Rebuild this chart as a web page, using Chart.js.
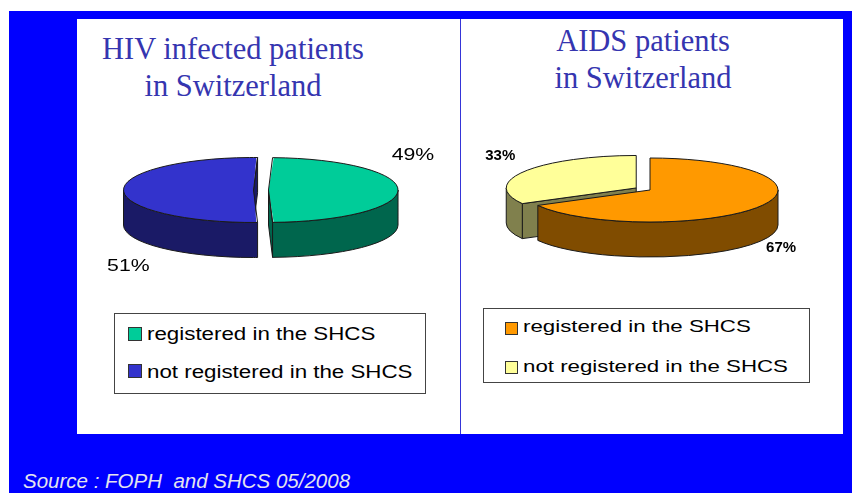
<!DOCTYPE html>
<html>
<head>
<meta charset="utf-8">
<script src="https://cdn.jsdelivr.net/npm/chart.js@4.4.0/dist/chart.umd.min.js"></script>
<style>
  html, body { margin: 0; padding: 0; background: #fff; }
  #page { position: relative; width: 852px; height: 493px; overflow: hidden; }
  #blue { position: absolute; left: 9px; top: 11px; width: 843px; height: 482px; background: #0000ff; }
  #panel { position: absolute; left: 77px; top: 19px; width: 766px; height: 415px; background: #fff; }
  #divider { position: absolute; left: 460px; top: 19px; width: 1px; height: 415px; background: #3535d8; }
  .title { position: absolute; width: 360px; text-align: center; white-space: nowrap;
           font-family: "Liberation Serif", "Times New Roman", serif; font-size: 30.5px; line-height: 37px; color: #3535b0; }
  .legend { position: absolute; border: 1px solid #444; box-sizing: border-box; background: #fff; }
  .sw { position: absolute; border: 1px solid #333; box-sizing: border-box; }
  .lt { position: absolute; white-space: nowrap; line-height: 1; transform-origin: 0 0; color: #000;
        font-family: "Liberation Sans", Arial, sans-serif; }
  canvas { position: absolute; }
  #source { position: absolute; left: 23px; top: 471px; line-height: 1; white-space: nowrap;
            font-family: "Liberation Sans", Arial, sans-serif; font-style: italic; font-size: 20.5px; color: #e4e4ee; }
</style>
</head>
<body>
<div id="page">
  <div id="blue"></div>
  <div id="panel"></div>
  <div id="divider"></div>
  <div class="title" id="titleL" style="left:53px; top:31px;"></div>
  <div class="title" id="titleR" style="left:463px; top:23px;"></div>
  <canvas id="hivPie" width="360" height="190" style="left:81px; top:95px;"></canvas>
  <canvas id="aidsPie" width="360" height="190" style="left:470px; top:95px;"></canvas>
  <div id="source"></div>
</div>
<script>
// data
const categories = ['registered in the SHCS', 'not registered in the SHCS'];
const hivValues = [49, 51];
const aidsValues = [67, 33];
const hivTitle = ['HIV infected patients', 'in Switzerland'];
const aidsTitle = ['AIDS patients', 'in Switzerland'];
const sourceNote = 'Source : FOPH\u00a0 and SHCS 05/2008';

// colours: top face, side face
const hivColors = ['#00cc99', '#3333cc'];
const hivSides = ['#00664d', '#1a1a66'];
const aidsColors = ['#ff9900', '#ffff99'];
const aidsSides = ['#804c00', '#80804d'];

document.getElementById('titleL').innerHTML = hivTitle.join('<br>');
document.getElementById('titleR').innerHTML = aidsTitle.join('<br>');
document.getElementById('source').textContent = sourceNote;

// flat Chart.js pie squashed into an ellipse, with walls drawn from the arc geometry
function pie3d(sides, o) {
  let geo = [];
  function slices(chart) {
    return chart.getDatasetMeta(0).data.map(a => {
      const off = (a.options.offset || 0) / 4;
      const mid = (a.startAngle + a.endAngle) / 2;
      const circ = a.endAngle - a.startAngle;
      const r = a.outerRadius + off * (1 - Math.sin(Math.min(Math.PI, circ)));
      return { s: a.startAngle, e: a.endAngle, mid: mid, r: r, ry: r * o.tilt,
               cx: a.x + Math.cos(mid) * off, cy: a.y + Math.sin(mid) * off * o.tilt };
    });
  }
  function walls(ctx, g, color) {
    ctx.fillStyle = color;
    // cut faces
    [[g.s, Math.cos(g.s) < -0.01], [g.e, Math.cos(g.e) > 0.01]].forEach(([ang, vis]) => {
      if (!vis) return;
      const px = g.cx + Math.cos(ang) * g.r, py = g.cy + Math.sin(ang) * g.ry;
      ctx.beginPath();
      ctx.moveTo(g.cx, g.cy);
      ctx.lineTo(px, py);
      ctx.lineTo(px, py + o.depth);
      ctx.lineTo(g.cx, g.cy + o.depth);
      ctx.closePath();
      ctx.fill();
      ctx.stroke();
    });
    // front rim
    const lo = Math.max(g.s, 0), hi = Math.min(g.e, Math.PI);
    if (lo < hi) {
      ctx.beginPath();
      ctx.ellipse(g.cx, g.cy, g.r, g.ry, 0, lo, hi);
      ctx.ellipse(g.cx, g.cy + o.depth, g.r, g.ry, 0, hi, lo, true);
      ctx.closePath();
      ctx.fill();
      ctx.stroke();
    }
  }
  return {
    id: 'pie3d',
    beforeDatasetsDraw(chart) {
      const ctx = chart.ctx;
      geo = slices(chart);
      const order = geo.map((g, i) => i).sort((p, q) => Math.sin(geo[p].mid) - Math.sin(geo[q].mid));
      ctx.save();
      ctx.lineWidth = 1;
      ctx.strokeStyle = o.edge;
      ctx.lineJoin = 'round';
      order.forEach(i => walls(ctx, geo[i], sides[i]));
      ctx.restore();
      const a0 = chart.getDatasetMeta(0).data[0];
      ctx.save();
      ctx.translate(a0.x, a0.y);
      ctx.scale(1, o.tilt);
      ctx.translate(-a0.x, -a0.y);
    },
    afterDatasetsDraw(chart) {
      const ctx = chart.ctx;
      ctx.restore();
      // outlines of the top faces
      ctx.save();
      ctx.lineWidth = 1;
      ctx.strokeStyle = o.edge;
      geo.forEach(g => {
        ctx.beginPath();
        ctx.moveTo(g.cx, g.cy);
        ctx.lineTo(g.cx + Math.cos(g.s) * g.r, g.cy + Math.sin(g.s) * g.ry);
        ctx.ellipse(g.cx, g.cy, g.r, g.ry, 0, g.s, g.e);
        ctx.closePath();
        ctx.stroke();
      });
      ctx.restore();
      // percent labels
      const vals = chart.data.datasets[0].data;
      const total = vals.reduce((a, b) => a + b, 0);
      geo.forEach((g, i) => {
        const a = o.labelAngle[i] * Math.PI / 180, f = o.labelDist[i];
        const x = g.cx + Math.cos(a) * g.r * f;
        const y = g.cy + Math.sin(a) * g.ry * f + (Math.sin(a) > 0 ? o.depth : 0);
        ctx.save();
        ctx.translate(x, y);
        ctx.scale(o.labelStretch, 1);
        ctx.font = o.labelFont;
        ctx.fillStyle = '#000';
        ctx.textAlign = 'center';
        ctx.textBaseline = 'middle';
        ctx.fillText(Math.round(vals[i] / total * 100) + '%', 0, 0);
        ctx.restore();
      });
    }
  };
}

function makePie(id, values, colors, sides, o) {
  return new Chart(document.getElementById(id), {
    type: 'pie',
    data: {
      labels: categories,
      datasets: [{
        data: values,
        backgroundColor: colors,
        borderWidth: 0,
        offset: o.explode,
        radius: o.radius,
        clip: false
      }]
    },
    options: {
      responsive: false,
      animation: false,
      events: [],
      rotation: o.rotation,
      layout: { padding: 0 },
      plugins: { legend: { display: false }, tooltip: { enabled: false } }
    },
    plugins: [pie3d(sides, o)]
  });
}

makePie('hivPie', hivValues, hivColors, hivSides, {
  explode: [30, 30], radius: 122.5, rotation: 1.8, tilt: 0.25, depth: 35, edge: '#1a1a1a',
  labelAngle: [-44, 127], labelDist: [1.55, 1.6],
  labelFont: '17px "Liberation Sans", Arial, sans-serif', labelStretch: 1.25
});
makePie('aidsPie', aidsValues, aidsColors, aidsSides, {
  explode: [0, 64], radius: 128, rotation: 0, tilt: 0.25, depth: 35, edge: '#1a1a1a',
  labelAngle: [35, 223], labelDist: [1.25, 1.43],
  labelFont: 'bold 15px "Liberation Sans", Arial, sans-serif', labelStretch: 1.0
});

// legend boxes
function legend(box, colors, s) {
  const page = document.getElementById('page');
  const d = document.createElement('div');
  d.className = 'legend';
  Object.assign(d.style, { left: box[0] + 'px', top: box[1] + 'px', width: box[2] + 'px', height: box[3] + 'px' });
  page.appendChild(d);
  categories.forEach((c, i) => {
    const sw = document.createElement('div');
    sw.className = 'sw';
    Object.assign(sw.style, { left: s.swX + 'px', top: s.swY[i] + 'px', width: s.sw + 'px', height: s.sw + 'px', background: colors[i] });
    page.appendChild(sw);
    const t = document.createElement('div');
    t.className = 'lt';
    t.textContent = c;
    Object.assign(t.style, { left: s.textX + 'px', top: (s.base[i] - 0.8465 * s.font) + 'px',
      fontSize: s.font + 'px', transform: 'scaleX(' + s.stretch + ')' });
    page.appendChild(t);
  });
}
legend([114, 313, 312, 81], hivColors, { swX: 128, swY: [327, 364], sw: 14, textX: 147, base: [340, 378], font: 18, stretch: 1.24 });
legend([483, 308, 327, 75], aidsColors, { swX: 505, swY: [322, 361], sw: 13, textX: 523, base: [332, 372], font: 17, stretch: 1.31 });
</script>
</body>
</html>
